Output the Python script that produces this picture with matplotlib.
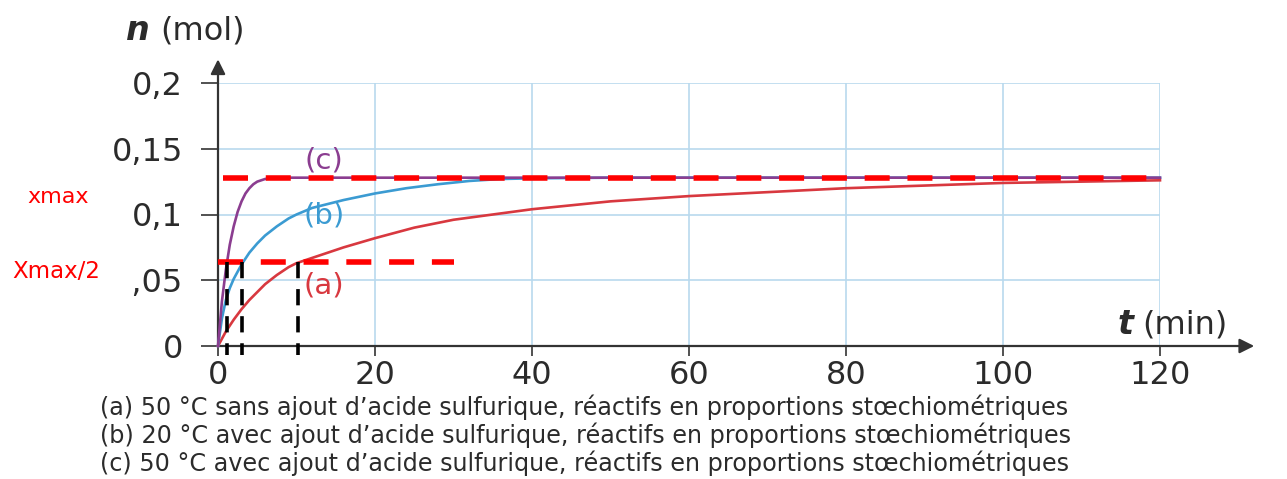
import matplotlib.pyplot as plt
from matplotlib.patches import Rectangle

# Courbes : n (mol) en fonction de t (min)
t_a = [0, 1, 2, 3, 4, 5, 6, 7.5, 9, 10, 11.5, 13, 16, 20, 25, 30, 35, 40, 50, 60,
       70, 80, 90, 100, 110, 120]
n_a = [0, 0.011, 0.020, 0.028, 0.035, 0.041, 0.047, 0.054, 0.060, 0.063, 0.066, 0.069,
       0.075, 0.082, 0.090, 0.096, 0.100, 0.104, 0.110, 0.114, 0.117, 0.120, 0.122,
       0.124, 0.125, 0.126]

t_b = [0, 0.5, 1, 1.5, 2, 3, 4, 5, 6, 7.5, 9, 10, 12, 14, 16, 20, 24, 28, 32, 36, 40,
       50, 120]
n_b = [0, 0.021, 0.035, 0.044, 0.051, 0.062, 0.071, 0.078, 0.084, 0.091, 0.097, 0.100,
       0.105, 0.108, 0.111, 0.116, 0.120, 0.123, 0.1255, 0.127, 0.1275, 0.128, 0.128]

t_c = [0, 0.5, 1, 1.5, 2, 2.5, 3, 3.5, 4, 4.5, 5, 6, 7, 8, 120]
n_c = [0, 0.034, 0.058, 0.077, 0.091, 0.102, 0.110, 0.116, 0.120, 0.123, 0.125, 0.127,
       0.1277, 0.128, 0.128]

x_max = 0.128
t_half = [1.2, 3.1, 10.2]   # temps de demi-réaction (c), (b), (a)

x_ticks = [0, 20, 40, 60, 80, 100, 120]
y_ticks = [0, 0.05, 0.1, 0.15, 0.2]
y_tick_labels = ['0', '0,05', '0,1', '0,15', '0,2']

captions = [
    "(a) 50 °C sans ajout d\u2019acide sulfurique, réactifs en proportions stœchiométriques",
    "(b) 20 °C avec ajout d\u2019acide sulfurique, réactifs en proportions stœchiométriques",
    "(c) 50 °C avec ajout d\u2019acide sulfurique, réactifs en proportions stœchiométriques",
]

col_a = '#d8383f'
col_b = '#3b9bd2'
col_c = '#8b3d90'
grid_col = '#b9d9ee'
axis_col = '#333333'
txt_col = '#2b2b2b'

W, H = 1287, 479
fig = plt.figure(figsize=(W / 100, H / 100), dpi=100)
ax = fig.add_axes([218 / W, 1 - 346 / H, 942 / W, 263 / H])
ax.set_xlim(0, 120)
ax.set_ylim(0, 0.2)

for s in ['top', 'right', 'left', 'bottom']:
    ax.spines[s].set_visible(False)

ax.set_xticks(x_ticks)
ax.set_xticklabels([str(v) for v in x_ticks])
ax.set_yticks(y_ticks)
ax.set_yticklabels(y_tick_labels)
ax.tick_params(axis='y', length=12, width=1.2, color=axis_col, pad=13,
               labelsize=23, labelcolor=txt_col)
ax.tick_params(axis='x', length=7, width=1.2, color=axis_col, pad=3,
               labelsize=23, labelcolor=txt_col)
ax.grid(True, color=grid_col, linewidth=1.2)
ax.set_axisbelow(True)

# axes avec flèches
ax.annotate('', xy=(1.10, 0), xytext=(0, 0), xycoords='axes fraction',
            arrowprops=dict(arrowstyle='-|>', color=axis_col, lw=1.6,
                            mutation_scale=22, shrinkA=0, shrinkB=0))
ax.annotate('', xy=(0, 1.09), xytext=(0, 0), xycoords='axes fraction',
            arrowprops=dict(arrowstyle='-|>', color=axis_col, lw=1.6,
                            mutation_scale=22, shrinkA=0, shrinkB=0))

ax.plot(t_a, n_a, color=col_a, lw=1.9, clip_on=False, zorder=3)
ax.plot(t_b, n_b, color=col_b, lw=1.9, clip_on=False, zorder=3)
ax.plot(t_c, n_c, color=col_c, lw=1.9, clip_on=False, zorder=3)

ax.text(13.5, 0.141, '(c)', color=col_c, fontsize=21, ha='center', va='center')
ax.text(13.5, 0.099, '(b)', color=col_b, fontsize=21, ha='center', va='center')
ax.text(13.5, 0.046, '(a)', color=col_a, fontsize=21, ha='center', va='center')

# constructions : xmax, xmax/2 et temps de demi-réaction
ax.plot([0.6, 120.5], [x_max, x_max], color='#ff0000', lw=4, dashes=(4.5, 3.2),
        clip_on=False, zorder=5)
ax.plot([0, 30], [x_max / 2, x_max / 2], color='#ff0000', lw=4, dashes=(4.5, 3.2),
        clip_on=False, zorder=5)
for th in t_half:
    ax.plot([th, th], [x_max / 2, -0.007], color='black', lw=2.6, dashes=(4.5, 3),
            clip_on=False, zorder=5)

fig.text(125 / W, 1 - 30 / H, r'$\boldsymbol{n}$', fontsize=24, color=txt_col,
         va='center', ha='left')
fig.text(160 / W, 1 - 31 / H, '(mol)', fontsize=23, color=txt_col,
         va='center', ha='left')
fig.text(1117 / W, 1 - 324 / H, r'$\boldsymbol{t}$', fontsize=24, color=txt_col,
         va='center', ha='left')
fig.text(1142 / W, 1 - 325 / H, '(min)', fontsize=23, color=txt_col,
         va='center', ha='left')

# cache blanc sur le "0" de 0,05 (comme sur l'original)
fig.add_artist(Rectangle((0, 1 - 293 / H), 133 / W, 38 / H, transform=fig.transFigure,
                         facecolor='white', edgecolor='none', zorder=2))
fig.text(27 / W, 1 - 197 / H, 'xmax', fontsize=16, color='#ff0000',
         va='center', ha='left', zorder=4)
fig.text(12 / W, 1 - 272 / H, 'Xmax/2', fontsize=16.5, color='#ff0000',
         va='center', ha='left', zorder=4)

for i, c in enumerate(captions):
    fig.text(100 / W, 1 - (407 + 28 * i) / H, c, fontsize=17.2,
             color=txt_col, va='center', ha='left')

fig.savefig('out.png', dpi=100, facecolor='white')
